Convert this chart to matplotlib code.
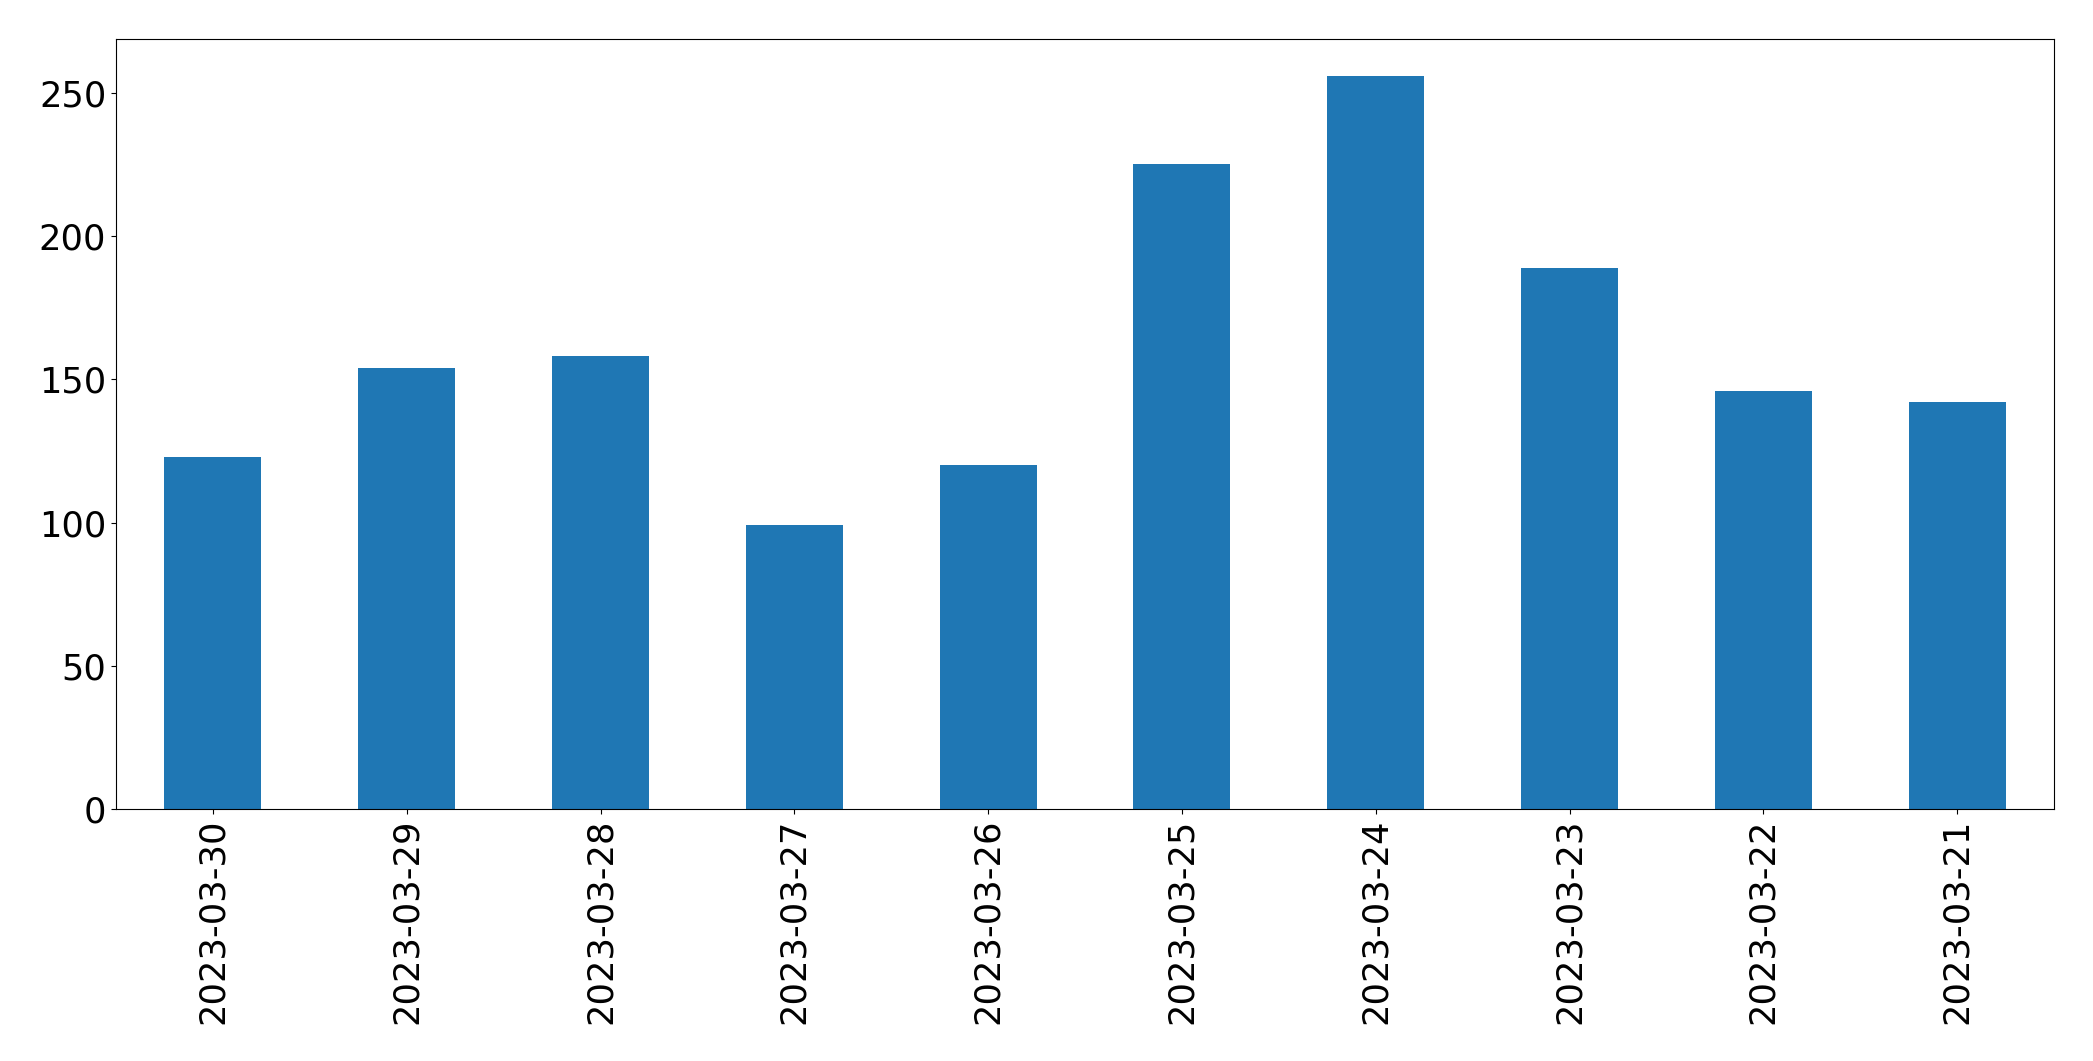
import matplotlib
matplotlib.use("Agg")
import matplotlib.pyplot as plt

dates = ["2023-03-30", "2023-03-29", "2023-03-28", "2023-03-27", "2023-03-26",
         "2023-03-25", "2023-03-24", "2023-03-23", "2023-03-22", "2023-03-21"]
counts = [123, 154, 158, 99, 120, 225, 256, 189, 146, 142]

fig = plt.figure(figsize=(20.93, 10.61), dpi=100)
ax = fig.add_axes([116/2093, 1 - 809/1061, (2054 - 116)/2093, (809 - 39)/1061])
x = list(range(len(dates)))
ax.bar(x, counts, width=0.5, color="#1f77b4")
ax.set_xlim(-0.5, len(dates) - 0.5)
ax.set_xticks(x)
ax.set_xticklabels(dates, rotation=90)
ax.tick_params(axis="both", labelsize=25.4)
ax.set_yticks([0, 50, 100, 150, 200, 250])
fig.savefig("out.png", dpi=100)
